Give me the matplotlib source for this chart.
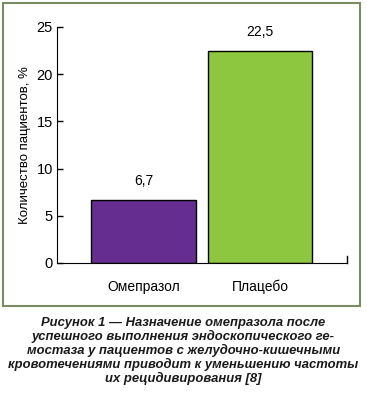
import matplotlib
matplotlib.use("Agg")
import matplotlib.pyplot as plt
from matplotlib.patches import Rectangle

plt.rcParams['font.family'] = ['Liberation Sans', 'DejaVu Sans']

categories = ['Омепразол', 'Плацебо']
values = [6.7, 22.5]
value_labels = ['6,7', '22,5']
colors = ['#662d91', '#8dc63f']
y_ticks = [0, 5, 10, 15, 20, 25]

caption = ('Рисунок 1 — Назначение омепразола после\n'
           'успешного выполнения эндоскопического ге-\n'
           'мостаза у пациентов с желудочно-кишечными\n'
           'кровотечениями приводит к уменьшению частоты\n'
           'их рецидивирования [8]')

W, H = 367, 396
fig = plt.figure(figsize=(W / 100, H / 100), dpi=100)

# frame around the chart
fig.patches.append(Rectangle((3 / W, 1 - 306 / H), 357 / W, 303 / H,
                             transform=fig.transFigure, fill=False,
                             edgecolor='#7a8c63', linewidth=1.5))

ax = fig.add_axes([57 / W, 1 - 263 / H, 290 / W, 236 / H])
x = list(range(len(categories)))
ax.bar(x, values, width=0.9, color=colors, edgecolor='black', linewidth=1)

for xi, v, lab in zip(x, values, value_labels):
    ax.text(xi, v + 1.2, lab, ha='center', va='bottom', fontsize=10)

ax.set_xlim(-0.742, 1.747)
ax.set_ylim(0, 25)
ax.set_yticks(y_ticks)
ax.set_xticks(x)
ax.set_xticklabels(categories, fontsize=10)
ax.tick_params(axis='y', direction='in', length=4, width=1, labelsize=10.5, pad=3)
ax.tick_params(axis='x', length=0, pad=12)
ax.spines['top'].set_visible(False)
ax.spines['right'].set_visible(False)
ax.set_ylabel('Количество пациентов, %', fontsize=9.5, labelpad=4)

# small tick at the right end of the x axis
ax.plot([1.747, 1.747], [0, 0.7], color='black', linewidth=1, clip_on=False)

fig.text(0.5, 1 - 351 / H, caption, ha='center', va='center',
         fontsize=9.4, fontweight='bold', fontstyle='italic',
         linespacing=1.12, color='#1a1a1a')

fig.savefig('out.png', dpi=100)
